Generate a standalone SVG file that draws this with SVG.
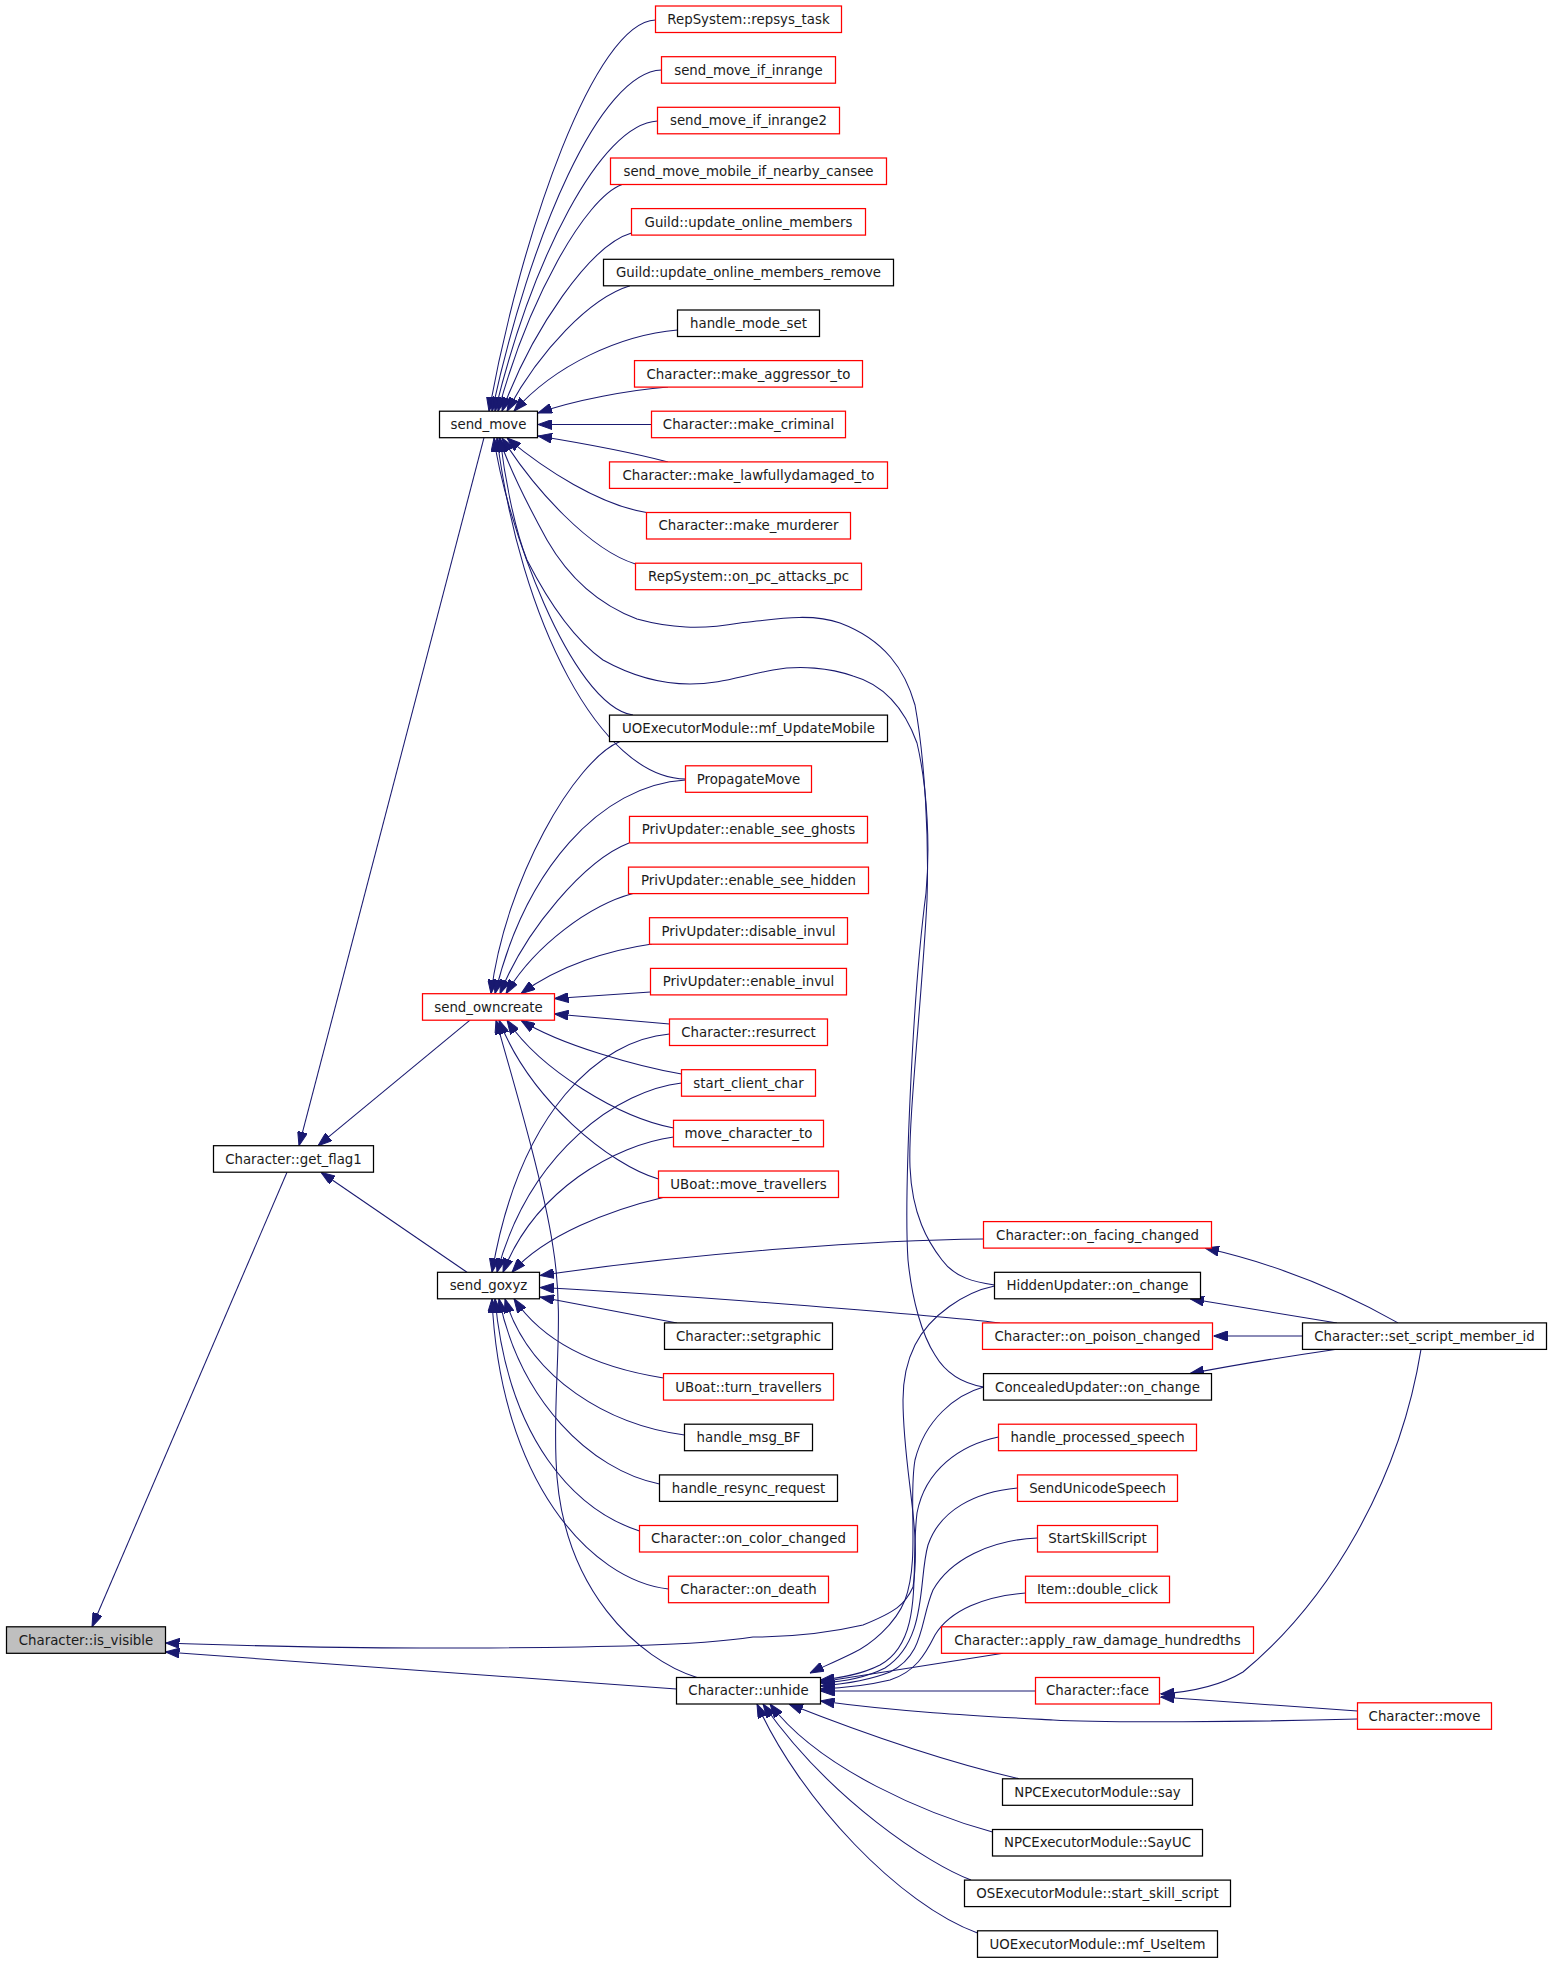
<svg xmlns="http://www.w3.org/2000/svg" width="1552" height="1963" viewBox="0 0 1552 1963">
<style>
rect{fill:#fff;stroke-width:1.25}
.r{stroke:#ff0000}
.k{stroke:#000}
.g{fill:#bfbfbf;stroke:#000}
text{font-family:"DejaVu Sans","Liberation Sans",sans-serif;font-size:13.33px;text-anchor:middle;fill:#1a1a1a}
#edges path{fill:none;stroke:#191970;stroke-width:1.05;marker-end:url(#ah)}
</style>
<defs>
<marker id="ah" viewBox="0 0 14 10" refX="14" refY="5" markerWidth="14" markerHeight="10" markerUnits="userSpaceOnUse" orient="auto">
<path d="M0,0 L14,5 L0,10 z" fill="#191970" stroke="#191970" stroke-width="1"/>
</marker>
</defs>
<rect x="0" y="0" width="1552" height="1963" style="fill:#fff;stroke:none"/>
<g id="edges">
<path d="M655.5,20 C595,22 522,230 489,411.2"/>
<path d="M661.5,70 C600,72 530,235 492,411.2"/>
<path d="M657.5,121 C600,124 532,260 495,411.2"/>
<path d="M622,184.5 C585,198 528,300 498,411.2"/>
<path d="M631.5,233 C590,245 532,330 502,411.2"/>
<path d="M630,285.8 C590,298 540,350 507,411.2"/>
<path d="M677.5,330 C620,335 555,365 514,411.2"/>
<path d="M668,387 C630,390 575,400 538,413"/>
<path d="M651.5,424.5 L538,424.5"/>
<path d="M668,462 C630,452 575,442 538,436"/>
<path d="M646.5,512.5 C600,505 545,470 507,438"/>
<path d="M635.5,564 C590,550 535,490 502,438"/>
<path d="M633,715.1 C570,705 505,520 494,438"/>
<path d="M685.5,779 C600,778 520,620 497,438"/>
<path d="M994.5,1285 C975,1282 955,1278 942,1260 C928,1242 912,1215 910,1167 C908,1120 922,1000 927,900 C929,840 925,760 915,705 C905,670 885,640 840,623 C810,612 770,620 740,623 C700,630 670,628 637,619 C600,605 570,580 547,540 C525,500 510,470 499,438"/>
<path d="M983.5,1387 C960,1383 945,1372 935,1355 C922,1335 912,1300 908,1260 C904,1200 912,1000 926,893 C930,850 928,790 917,743 C905,710 885,685 853,676 C830,668 800,665 773,670 C740,676 720,684 690,684 C660,684 630,675 603,660 C575,640 550,605 527,560 C515,530 505,480 500,438"/>
<path d="M620,741.6 C575,760 505,880 491,993.7"/>
<path d="M685.5,780 C600,785 525,870 495,993.7"/>
<path d="M629,843 C585,860 525,930 500,993.7"/>
<path d="M633,893.6 C590,905 535,945 506,993.7"/>
<path d="M652,944 C610,950 560,965 521,993.7"/>
<path d="M650.5,992 L554.5,998.5"/>
<path d="M669.5,1024 L554.5,1014"/>
<path d="M681.5,1074 C640,1067 560,1045 521,1020.2"/>
<path d="M673.5,1128 C620,1118 540,1070 507,1020.2"/>
<path d="M658.5,1179 C610,1165 530,1100 499,1020.2"/>
<path d="M697,1677.5 C640,1660 560,1590 556,1460 C553,1380 565,1320 553,1247 C543,1180 510,1070 496,1020.2"/>
<path d="M669.5,1034 C600,1040 520,1110 492,1272.3"/>
<path d="M681.5,1083 C620,1090 530,1150 497,1272.3"/>
<path d="M673.5,1137 C615,1145 535,1190 503,1272.3"/>
<path d="M663,1197.5 C610,1210 545,1235 512,1272.3"/>
<path d="M983.5,1239 C880,1240 700,1252 540,1275.5"/>
<path d="M1000,1323 C940,1316 700,1296 540,1287.5"/>
<path d="M677,1323 L540,1297"/>
<path d="M663.5,1378 C600,1368 545,1345 514,1298.8"/>
<path d="M684.5,1435 C610,1425 530,1380 505,1298.8"/>
<path d="M659.5,1484 C590,1470 520,1400 499,1298.8"/>
<path d="M639.5,1531 C575,1510 508,1440 495,1298.8"/>
<path d="M668.5,1589 C590,1580 500,1480 492,1298.8"/>
<path d="M484,437.7 L299,1145.7"/>
<path d="M470,1020.2 L318,1145.7"/>
<path d="M467,1272.3 L321,1172.3"/>
<path d="M287,1172.3 L92,1626.8"/>
<path d="M676.5,1689 L165.5,1652"/>
<path d="M994.5,1286 C965,1292 930,1315 915,1345 C905,1365 903,1385 903,1400 C903,1470 922,1530 913,1587 C905,1605 895,1612 863,1625 C820,1635 780,1637 753,1637 C700,1645 613,1648 420,1648 C300,1648 200,1644 165.5,1643"/>
<path d="M983.5,1387 C955,1395 925,1420 915,1460 C908,1500 920,1560 905,1600 C895,1625 870,1645 853,1653 C835,1662 820,1668 810,1673"/>
<path d="M998.5,1437 C960,1445 925,1470 917,1513 C910,1570 925,1640 880,1665 C860,1675 840,1678 820.5,1680"/>
<path d="M1017.5,1488 C975,1492 940,1510 928,1545 C918,1580 928,1640 885,1668 C865,1678 840,1682 820.5,1683"/>
<path d="M1037.5,1538 C990,1540 950,1560 933,1590 C920,1620 925,1655 890,1672 C870,1680 845,1684 820.5,1686"/>
<path d="M1025.5,1593 C985,1596 950,1610 935,1635 C925,1655 915,1672 890,1680 C865,1686 845,1688 820.5,1689"/>
<path d="M1003,1653.3 C960,1660 900,1670 820.5,1682"/>
<path d="M1035.5,1691 L820.5,1691"/>
<path d="M1357.5,1719 C1250,1722 1100,1723 1053,1720 C980,1716 900,1712 820.5,1701"/>
<path d="M1019,1778.8 C960,1765 880,1740 789,1704"/>
<path d="M992.5,1832 C930,1815 820,1770 770,1704"/>
<path d="M971,1880 C930,1865 830,1800 763,1704"/>
<path d="M977.5,1933 C900,1905 800,1800 757,1704"/>
<path d="M1421,1349.4 C1400,1480 1330,1600 1243,1672 C1220,1686 1190,1692 1160.5,1694"/>
<path d="M1357.5,1711 L1160.5,1697"/>
<path d="M1398,1322.9 C1340,1290 1280,1265 1205,1248.1"/>
<path d="M1337,1322.9 C1290,1315 1240,1307 1190,1298.8"/>
<path d="M1302.5,1336 L1213.5,1336"/>
<path d="M1335,1349.4 C1290,1356 1240,1364 1190,1373.6"/>
</g>
<g id="n_repsys_task"><rect class="r" x="655.5" y="6" width="186" height="26.5"/><text x="748.5" y="23.9">RepSystem::repsys_task</text></g>
<g id="n_send_move_if_inrange"><rect class="r" x="661.5" y="56.7" width="174" height="26.5"/><text x="748.5" y="74.6">send_move_if_inrange</text></g>
<g id="n_send_move_if_inrange2"><rect class="r" x="657.5" y="107.3" width="182" height="26.5"/><text x="748.5" y="125.2">send_move_if_inrange2</text></g>
<g id="n_send_move_mobile"><rect class="r" x="610.5" y="158" width="276" height="26.5"/><text x="748.5" y="175.9">send_move_mobile_if_nearby_cansee</text></g>
<g id="n_update_online_members"><rect class="r" x="631.5" y="208.6" width="234" height="26.5"/><text x="748.5" y="226.5">Guild::update_online_members</text></g>
<g id="n_update_online_members_remove"><rect class="k" x="603.5" y="259.3" width="290" height="26.5"/><text x="748.5" y="277.2">Guild::update_online_members_remove</text></g>
<g id="n_handle_mode_set"><rect class="k" x="677.5" y="310" width="142" height="26.5"/><text x="748.5" y="327.9">handle_mode_set</text></g>
<g id="n_make_aggressor_to"><rect class="r" x="634.5" y="360.6" width="228" height="26.5"/><text x="748.5" y="378.5">Character::make_aggressor_to</text></g>
<g id="n_make_criminal"><rect class="r" x="651.5" y="411.2" width="194" height="26.5"/><text x="748.5" y="429.1">Character::make_criminal</text></g>
<g id="n_make_lawfullydamaged_to"><rect class="r" x="609.5" y="461.9" width="278" height="26.5"/><text x="748.5" y="479.8">Character::make_lawfullydamaged_to</text></g>
<g id="n_make_murderer"><rect class="r" x="646.5" y="512.5" width="204" height="26.5"/><text x="748.5" y="530.4">Character::make_murderer</text></g>
<g id="n_on_pc_attacks_pc"><rect class="r" x="635.5" y="563.2" width="226" height="26.5"/><text x="748.5" y="581.1">RepSystem::on_pc_attacks_pc</text></g>
<g id="n_mf_UpdateMobile"><rect class="k" x="609.5" y="715.1" width="278" height="26.5"/><text x="748.5" y="733">UOExecutorModule::mf_UpdateMobile</text></g>
<g id="n_PropagateMove"><rect class="r" x="685.5" y="765.8" width="126" height="26.5"/><text x="748.5" y="783.7">PropagateMove</text></g>
<g id="n_enable_see_ghosts"><rect class="r" x="629.5" y="816.4" width="238" height="26.5"/><text x="748.5" y="834.3">PrivUpdater::enable_see_ghosts</text></g>
<g id="n_enable_see_hidden"><rect class="r" x="628.5" y="867.1" width="240" height="26.5"/><text x="748.5" y="885">PrivUpdater::enable_see_hidden</text></g>
<g id="n_disable_invul"><rect class="r" x="649.5" y="917.7" width="198" height="26.5"/><text x="748.5" y="935.6">PrivUpdater::disable_invul</text></g>
<g id="n_enable_invul"><rect class="r" x="650.5" y="968.4" width="196" height="26.5"/><text x="748.5" y="986.3">PrivUpdater::enable_invul</text></g>
<g id="n_resurrect"><rect class="r" x="669.5" y="1019" width="158" height="26.5"/><text x="748.5" y="1036.9">Character::resurrect</text></g>
<g id="n_start_client_char"><rect class="r" x="681.5" y="1069.7" width="134" height="26.5"/><text x="748.5" y="1087.6">start_client_char</text></g>
<g id="n_move_character_to"><rect class="r" x="673.5" y="1120.3" width="150" height="26.5"/><text x="748.5" y="1138.2">move_character_to</text></g>
<g id="n_move_travellers"><rect class="r" x="658.5" y="1171" width="180" height="26.5"/><text x="748.5" y="1188.9">UBoat::move_travellers</text></g>
<g id="n_setgraphic"><rect class="k" x="664.5" y="1322.9" width="168" height="26.5"/><text x="748.5" y="1340.8">Character::setgraphic</text></g>
<g id="n_turn_travellers"><rect class="r" x="663.5" y="1373.6" width="170" height="26.5"/><text x="748.5" y="1391.5">UBoat::turn_travellers</text></g>
<g id="n_handle_msg_BF"><rect class="k" x="684.5" y="1424.2" width="128" height="26.5"/><text x="748.5" y="1442.1">handle_msg_BF</text></g>
<g id="n_handle_resync_request"><rect class="k" x="659.5" y="1474.9" width="178" height="26.5"/><text x="748.5" y="1492.8">handle_resync_request</text></g>
<g id="n_on_color_changed"><rect class="r" x="639.5" y="1525.5" width="218" height="26.5"/><text x="748.5" y="1543.4">Character::on_color_changed</text></g>
<g id="n_on_death"><rect class="r" x="668.5" y="1576.2" width="160" height="26.5"/><text x="748.5" y="1594.1">Character::on_death</text></g>
<g id="n_unhide"><rect class="k" x="676.5" y="1677.5" width="144" height="26.5"/><text x="748.5" y="1695.4">Character::unhide</text></g>
<g id="n_on_facing_changed"><rect class="r" x="983.5" y="1221.6" width="228" height="26.5"/><text x="1097.5" y="1239.5">Character::on_facing_changed</text></g>
<g id="n_HiddenUpdater"><rect class="k" x="994.5" y="1272.3" width="206" height="26.5"/><text x="1097.5" y="1290.2">HiddenUpdater::on_change</text></g>
<g id="n_on_poison_changed"><rect class="r" x="982.5" y="1322.9" width="230" height="26.5"/><text x="1097.5" y="1340.8">Character::on_poison_changed</text></g>
<g id="n_ConcealedUpdater"><rect class="k" x="983.5" y="1373.6" width="228" height="26.5"/><text x="1097.5" y="1391.5">ConcealedUpdater::on_change</text></g>
<g id="n_handle_processed_speech"><rect class="r" x="998.5" y="1424.2" width="198" height="26.5"/><text x="1097.5" y="1442.1">handle_processed_speech</text></g>
<g id="n_SendUnicodeSpeech"><rect class="r" x="1017.5" y="1474.9" width="160" height="26.5"/><text x="1097.5" y="1492.8">SendUnicodeSpeech</text></g>
<g id="n_StartSkillScript"><rect class="r" x="1037.5" y="1525.5" width="120" height="26.5"/><text x="1097.5" y="1543.4">StartSkillScript</text></g>
<g id="n_double_click"><rect class="r" x="1025.5" y="1576.2" width="144" height="26.5"/><text x="1097.5" y="1594.1">Item::double_click</text></g>
<g id="n_apply_raw_damage_hundredths"><rect class="r" x="941.5" y="1626.8" width="312" height="26.5"/><text x="1097.5" y="1644.7">Character::apply_raw_damage_hundredths</text></g>
<g id="n_face"><rect class="r" x="1035.5" y="1677.5" width="124" height="26.5"/><text x="1097.5" y="1695.4">Character::face</text></g>
<g id="n_npc_say"><rect class="k" x="1002.5" y="1778.8" width="190" height="26.5"/><text x="1097.5" y="1796.7">NPCExecutorModule::say</text></g>
<g id="n_npc_SayUC"><rect class="k" x="992.5" y="1829.5" width="210" height="26.5"/><text x="1097.5" y="1847.4">NPCExecutorModule::SayUC</text></g>
<g id="n_start_skill_script"><rect class="k" x="964.5" y="1880.1" width="266" height="26.5"/><text x="1097.5" y="1898">OSExecutorModule::start_skill_script</text></g>
<g id="n_mf_UseItem"><rect class="k" x="977.5" y="1930.8" width="240" height="26.5"/><text x="1097.5" y="1948.7">UOExecutorModule::mf_UseItem</text></g>
<g id="n_set_script_member_id"><rect class="k" x="1302.5" y="1322.9" width="244" height="26.5"/><text x="1424.5" y="1340.8">Character::set_script_member_id</text></g>
<g id="n_move"><rect class="r" x="1357.5" y="1702.8" width="134" height="26.5"/><text x="1424.5" y="1720.7">Character::move</text></g>
<g id="n_send_move"><rect class="k" x="439.5" y="411.2" width="98" height="26.5"/><text x="488.5" y="429.1">send_move</text></g>
<g id="n_send_owncreate"><rect class="r" x="422.5" y="993.7" width="132" height="26.5"/><text x="488.5" y="1011.6">send_owncreate</text></g>
<g id="n_send_goxyz"><rect class="k" x="437.5" y="1272.3" width="102" height="26.5"/><text x="488.5" y="1290.2">send_goxyz</text></g>
<g id="n_get_flag1"><rect class="k" x="213.5" y="1145.7" width="160" height="26.5"/><text x="293.5" y="1163.6">Character::get_flag1</text></g>
<g id="n_is_visible"><rect class="g" x="6.5" y="1626.8" width="159" height="26.5"/><text x="86" y="1644.7">Character::is_visible</text></g>
</svg>
